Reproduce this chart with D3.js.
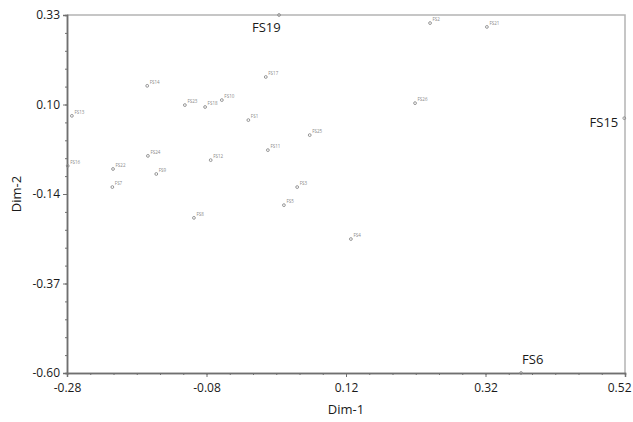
<!DOCTYPE html>
<html>
<head>
<meta charset="utf-8">
<script src="https://cdn.jsdelivr.net/npm/d3@7/dist/d3.min.js"></script>
<style>
  html, body { margin: 0; padding: 0; background: #fff; }
  svg { display: block; font-family: "Open Sans", "Noto Sans", sans-serif; }
</style>
</head>
<body>
<svg id="chart" width="633" height="422"></svg>
<script>
// ---- data ----
const names = ["FS13","FS14","FS23","FS18","FS10","FS17","FS1","FS25","FS26","FS2","FS21",
               "FS16","FS22","FS24","FS9","FS7","FS12","FS11","FS3","FS5","FS8","FS4",
               "FS19","FS15","FS6"];
const dim1 = [-0.273,-0.165,-0.111,-0.082,-0.058,0.005,-0.020,0.068,0.219,0.2405,0.322,
              -0.279,-0.214,-0.164,-0.152,-0.215,-0.074,0.008,0.050,0.031,-0.098,0.127,
              0.024,0.519,0.371];
const dim2 = [0.068,0.146,0.096,0.091,0.109,0.169,0.057,0.018,0.101,0.309,0.299,
              -0.062,-0.070,-0.036,-0.083,-0.117,-0.047,-0.021,-0.117,-0.164,-0.197,-0.252,
              0.330,0.062,-0.600];
const highlighted = ["FS19","FS15","FS6"];
const xTicks = [-0.28,-0.08,0.12,0.32,0.52];
const xTickLabels = ["-0.28","-0.08","0.12","0.32","0.52"];
const yTicks = [0.33,0.0975,-0.135,-0.3675,-0.60];
const yTickLabels = ["0.33","0.10","-0.14","-0.37","-0.60"];
const xTitle = "Dim-1", yTitle = "Dim-2";

// ---- layout ----
const W = 633, H = 422;
const m = {left: 67, right: 8, top: 15, bottom: 49};
const svg = d3.select("#chart");
const x = d3.scaleLinear().domain([-0.28, 0.52]).range([m.left, W - m.right]);
const y = d3.scaleLinear().domain([-0.60, 0.33]).range([H - m.bottom, m.top]);

// frame (top & right, light gray)
svg.append("path")
  .attr("d", `M${x(-0.28)},${y(0.33)}H${x(0.52)}V${y(-0.60)}`)
  .attr("fill","none").attr("stroke","#b4b4b4").attr("stroke-width",1.5);

// minor ticks
const xMinor = d3.range(0, 25).map(i => -0.28 + i * 0.8 / 24);
const yMinor = d3.range(0, 21).map(i => -0.60 + i * 0.93 / 20);

svg.append("g").attr("transform", `translate(0,${y(-0.60)})`)
  .call(d3.axisBottom(x).tickValues(xMinor).tickSize(2).tickFormat(""));
const xAxisMajor = svg.append("g").attr("transform", `translate(0,${y(-0.60)})`)
  .call(d3.axisBottom(x).tickValues(xTicks).tickSize(4).tickPadding(6)
        .tickFormat((d,i) => xTickLabels[i]));
svg.append("g").attr("transform", `translate(${x(-0.28)},0)`)
  .call(d3.axisLeft(y).tickValues(yMinor).tickSize(2).tickFormat(""));
svg.append("g").attr("transform", `translate(${x(-0.28)},0)`)
  .call(d3.axisLeft(y).tickValues(yTicks).tickSize(4).tickPadding(3)
        .tickFormat((d,i) => yTickLabels[i]));

svg.selectAll(".domain").attr("stroke","#707070").attr("stroke-width",1.5);
svg.selectAll(".tick line").attr("stroke","#707070");
svg.selectAll(".tick text").attr("fill","#1a1a1a").style("font-size","12px")
  .style("font-family", '"Open Sans","Noto Sans",sans-serif');

// keep the last x tick label inside the picture
xAxisMajor.selectAll(".tick text").filter((d,i) => i === xTicks.length - 1)
  .attr("text-anchor","end").attr("dx", 6);

// axis titles
svg.append("text").attr("x", (x(-0.28)+x(0.52))/2).attr("y", 414)
  .attr("text-anchor","middle").attr("fill","#1a1a1a").style("font-size","13px").text(xTitle);
svg.append("text").attr("transform", `translate(21,${(y(0.33)+y(-0.60))/2}) rotate(-90)`)
  .attr("text-anchor","middle").attr("fill","#1a1a1a").style("font-size","13px").text(yTitle);

// points
const pts = names.map((n,i) => ({name:n, x:dim1[i], y:dim2[i], big: highlighted.includes(n)}));
const g = svg.append("g");
g.selectAll("circle").data(pts).join("circle")
  .attr("cx", d => x(d.x)).attr("cy", d => y(d.y))
  .attr("r", 1.4).attr("fill","none").attr("stroke","#8a8a8a").attr("stroke-width",0.9);

// small labels
g.selectAll("text.small").data(pts.filter(d => !d.big)).join("text")
  .attr("class","small")
  .attr("x", d => x(d.x) + 2.5).attr("y", d => y(d.y) - 2)
  .attr("fill","#8a8a8a").style("font-size","4.5px").text(d => d.name);

// large labels, kept inside the frame
const atTop = d => d.y >= 0.33 - 1e-9;
const atRight = d => d.x >= 0.51;
g.selectAll("text.big").data(pts.filter(d => d.big)).join("text")
  .attr("class","big")
  .attr("x", d => atTop(d) ? x(d.x) - 27 : atRight(d) ? x(d.x) - 6 : x(d.x) + 1)
  .attr("y", d => atTop(d) ? y(d.y) + 17 : atRight(d) ? y(d.y) + 9 : y(d.y) - 9)
  .attr("text-anchor", d => atRight(d) && !atTop(d) ? "end" : "start")
  .attr("fill","#1a1a1a").style("font-size","13px").text(d => d.name);
</script>
</body>
</html>
